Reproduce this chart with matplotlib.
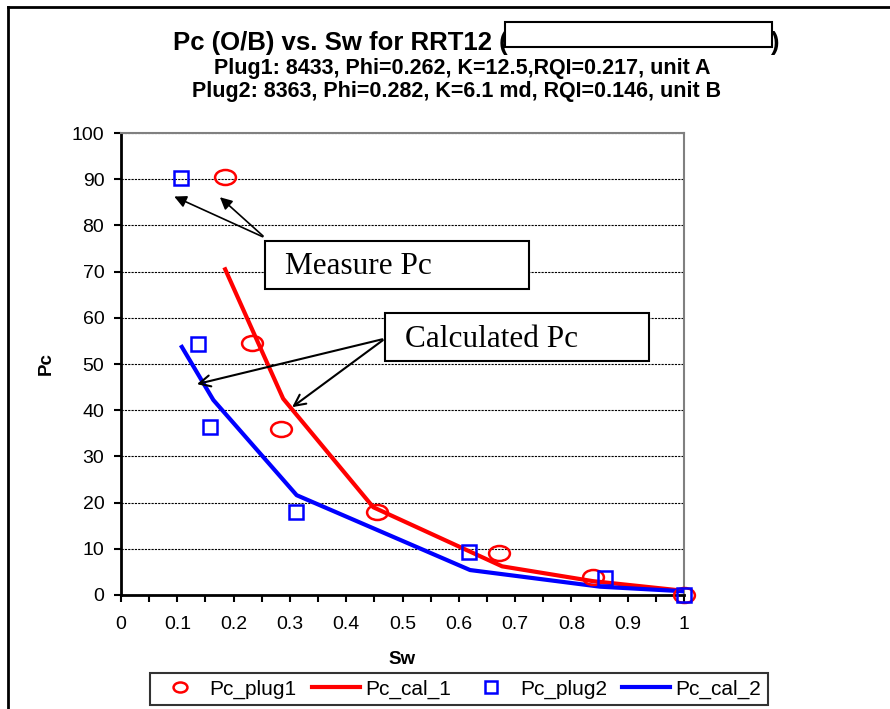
import matplotlib.pyplot as plt
from matplotlib.lines import Line2D
from matplotlib.patches import Rectangle
from matplotlib.path import Path
from matplotlib.transforms import Affine2D

plt.rcParams['font.family'] = ['Liberation Sans', 'DejaVu Sans']

# datos medidos (plugs) y curvas calculadas
sw_plug1 = [0.185, 0.233, 0.285, 0.455, 0.672, 0.838, 1.0]
pc_plug1 = [90.5, 54.5, 36.0, 18.0, 9.0, 3.8, 0.0]
sw_plug2 = [0.107, 0.136, 0.158, 0.310, 0.618, 0.860, 1.0]
pc_plug2 = [90.3, 54.4, 36.3, 18.0, 9.3, 3.6, 0.0]

sw_cal1 = [0.185, 0.288, 0.448, 0.677, 0.838, 1.0]
pc_cal1 = [70.5, 42.5, 19.0, 6.2, 3.0, 0.9]
sw_cal2 = [0.108, 0.164, 0.312, 0.620, 0.851, 1.0]
pc_cal2 = [53.7, 42.2, 21.6, 5.4, 1.8, 0.8]

fig = plt.figure(figsize=(8.9, 7.09), dpi=100)
ax = fig.add_axes([0.136, 0.1608, 0.6325, 0.6516])

# marcador eliptico (como no excel)
ellipse = Path.unit_circle().transformed(Affine2D().scale(1.0, 0.72))

ax.plot(sw_plug1, pc_plug1, linestyle='none', marker=ellipse, markersize=15,
        markerfacecolor='none', markeredgecolor='red', markeredgewidth=1.8,
        label='Pc_plug1', zorder=4, clip_on=False)
ax.plot(sw_cal1, pc_cal1, color='red', linewidth=3, label='Pc_cal_1', zorder=3)
ax.plot(sw_plug2, pc_plug2, linestyle='none', marker='s', markersize=10,
        markerfacecolor='none', markeredgecolor='blue', markeredgewidth=1.8,
        label='Pc_plug2', zorder=5, clip_on=False)
ax.plot(sw_cal2, pc_cal2, color='blue', linewidth=3, label='Pc_cal_2', zorder=3)

ax.set_xlim(0, 1)
ax.set_ylim(0, 100)
ax.set_xticks([i / 10 for i in range(11)])
ax.set_xticklabels(['0', '0.1', '0.2', '0.3', '0.4', '0.5', '0.6', '0.7', '0.8', '0.9', '1'])
ax.set_xticks([i / 20 for i in range(1, 20, 2)], minor=True)
ax.set_yticks(range(0, 101, 10))
ax.tick_params(axis='both', which='both', direction='out', length=5, width=1.5,
               labelsize=14, pad=7)
ax.tick_params(axis='x', which='both', pad=10)
ax.grid(axis='y', color='black', linestyle=(0, (2, 1)), linewidth=0.8)
ax.set_axisbelow(True)

for s in ['left', 'bottom']:
    ax.spines[s].set_linewidth(2)
for s in ['top', 'right']:
    ax.spines[s].set_color('gray')
    ax.spines[s].set_linewidth(1.5)

ax.set_xlabel('Sw', fontsize=13.5, fontweight='bold', labelpad=13)
ax.set_ylabel('Pc', fontsize=13.5, fontweight='bold', labelpad=12)

# titulo (parte tapada com caixa branca)
fig.text(508 / 890, 0.939, 'Pc (O/B) vs. Sw for RRT12 (',
         ha='right', va='center', fontsize=18.5, fontweight='bold')
fig.text(770 / 890, 0.939, ')',
         ha='left', va='center', fontsize=18.5, fontweight='bold')
fig.text(0.519, 0.904, 'Plug1: 8433, Phi=0.262, K=12.5,RQI=0.217, unit A',
         ha='center', va='center', fontsize=15.5, fontweight='bold')
fig.text(0.513, 0.871, 'Plug2: 8363, Phi=0.282, K=6.1 md, RQI=0.146, unit B',
         ha='center', va='center', fontsize=15.5, fontweight='bold')
fig.add_artist(Rectangle((505 / 890, 1 - 47 / 709), 267 / 890, 25 / 709,
                         transform=fig.transFigure, facecolor='white',
                         edgecolor='black', linewidth=1.5, zorder=5))

# anotacoes
ax.annotate('', xy=(0.09, 86.5), xytext=(0.256, 77.3), arrowprops=dict(
    arrowstyle='-|>', color='black', lw=1.2, mutation_scale=18))
ax.annotate('', xy=(0.172, 86.5), xytext=(0.256, 77.3), arrowprops=dict(
    arrowstyle='-|>', color='black', lw=1.2, mutation_scale=18))
ax.add_patch(Rectangle((0.256, 66.2), 0.469, 10.4, facecolor='white',
                       edgecolor='black', lw=1.5, zorder=6))
ax.text(0.291, 71.0, 'Measure Pc', fontsize=22.5, family='Liberation Serif',
        va='center', ha='left', zorder=7)
ax.annotate('', xy=(0.13, 45.5), xytext=(0.469, 55.5), arrowprops=dict(
    arrowstyle='->', color='black', lw=1.5, mutation_scale=20))
ax.annotate('', xy=(0.3, 40.3), xytext=(0.469, 55.5), arrowprops=dict(
    arrowstyle='->', color='black', lw=1.5, mutation_scale=20))
ax.add_patch(Rectangle((0.469, 50.6), 0.469, 10.4, facecolor='white',
                       edgecolor='black', lw=1.5, zorder=6, clip_on=False))
ax.text(0.504, 55.4, 'Calculated Pc', fontsize=22.5, family='Liberation Serif',
        va='center', ha='left', zorder=7)

leg = ax.legend(loc='upper center', bbox_to_anchor=(0.60, -0.169), ncol=4,
                fontsize=15, frameon=True, fancybox=False, edgecolor='black',
                handlelength=2.3, handletextpad=0.25, columnspacing=0.75,
                borderpad=0.3, borderaxespad=0)
leg.get_frame().set_linewidth(1.5)
leg.legend_handles[0].set_markersize(10)
leg.legend_handles[2].set_markersize(9)

# borda do grafico
fig.add_artist(Line2D([8 / 890, 8 / 890], [0, 1 - 7 / 709], color='black', lw=2,
                      transform=fig.transFigure))
fig.add_artist(Line2D([8 / 890, 1], [1 - 7 / 709, 1 - 7 / 709], color='black', lw=2,
                      transform=fig.transFigure))

fig.savefig('out.png', dpi=100)
